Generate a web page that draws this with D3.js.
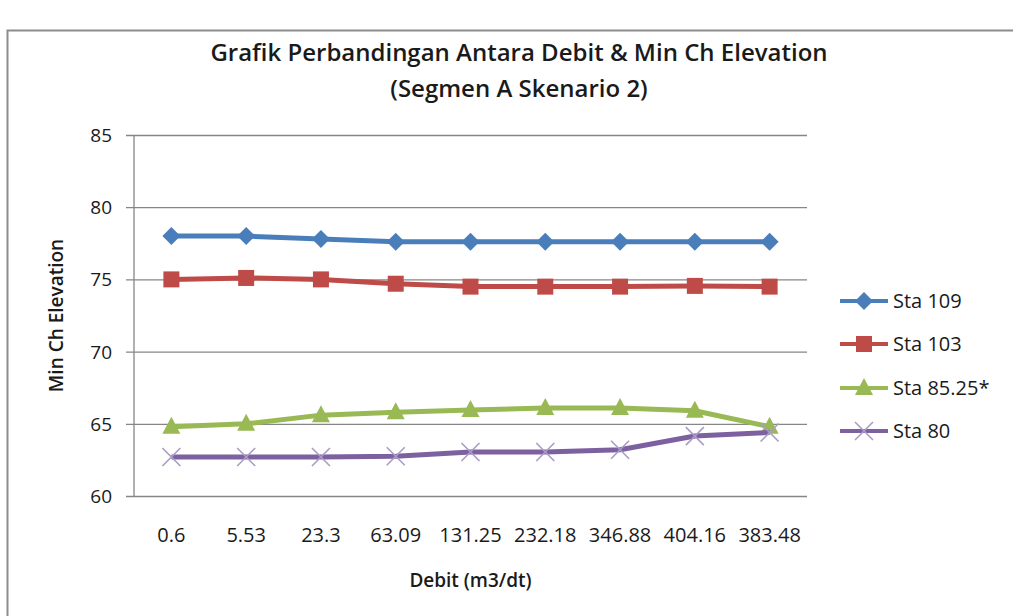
<!DOCTYPE html>
<html>
<head>
<meta charset="utf-8">
<script src="https://cdn.jsdelivr.net/npm/d3@7"></script>
<style>
  html, body { margin: 0; padding: 0; background: #fff; }
  svg { display: block; }
</style>
</head>
<body>
<svg id="chart" width="1013" height="616"></svg>
<script>
// Discharge categories along the x axis
const debitLabels = ["0.6", "5.53", "23.3", "63.09", "131.25", "232.18", "346.88", "404.16", "383.48"];

// Minimum channel elevation for each station
const sta109 = [78.0, 78.0, 77.8, 77.6, 77.6, 77.6, 77.6, 77.6, 77.6];
const sta103 = [75.0, 75.1, 75.0, 74.7, 74.5, 74.5, 74.5, 74.55, 74.5];
const sta8525 = [64.8, 65.0, 65.6, 65.8, 65.95, 66.1, 66.1, 65.9, 64.8];
const sta80 = [62.7, 62.7, 62.7, 62.75, 63.05, 63.05, 63.2, 64.15, 64.4];

const yTicks = [60, 65, 70, 75, 80, 85];

const seriesNames = ["Sta 109", "Sta 103", "Sta 85.25*", "Sta 80"];
const seriesValues = [sta109, sta103, sta8525, sta80];
const seriesColors = ["#4a7ebb", "#be4b48", "#98b954", "#7d60a0"];
const seriesMarkers = ["diamond", "square", "triangle", "cross"];

const font = "'Open Sans', 'Noto Sans', sans-serif";
const textColor = "#1a1a1a";
const svg = d3.select("#chart");

// Chart frame
svg.append("rect")
  .attr("x", 7.5).attr("y", 30.5)
  .attr("width", 1013).attr("height", 620)
  .attr("fill", "#fff")
  .attr("stroke", "#8c8c8c").attr("stroke-width", 2);

const plot = { left: 134, right: 807, top: 135, bottom: 496 };

const x = d3.scaleBand()
  .domain(debitLabels)
  .range([plot.left, plot.right]);

const y = d3.scaleLinear()
  .domain([60, 85])
  .range([plot.bottom, plot.top]);

// Horizontal gridlines with left tick marks
const yAxis = d3.axisLeft(y)
  .tickValues(yTicks)
  .tickSize(-(plot.right - plot.left))
  .tickPadding(22)
  .tickFormat(d3.format("d"));

const gy = svg.append("g")
  .attr("transform", `translate(${plot.left},0)`)
  .call(yAxis);
gy.select(".domain").remove();
gy.selectAll(".tick line")
  .attr("x1", -8)
  .attr("stroke", "#868686").attr("stroke-width", 1.3);
gy.selectAll(".tick text")
  .attr("font-family", font).attr("font-size", 19)
  .attr("fill", textColor).attr("dy", "0.34em");

// Vertical value axis line
svg.append("line")
  .attr("x1", plot.left).attr("x2", plot.left)
  .attr("y1", plot.top).attr("y2", plot.bottom)
  .attr("stroke", "#868686").attr("stroke-width", 1.3);

// Category labels
const xAxis = d3.axisBottom(x).tickSize(0).tickPadding(32);
const gx = svg.append("g")
  .attr("transform", `translate(0,${plot.bottom})`)
  .call(xAxis);
gx.select(".domain").remove();
gx.selectAll(".tick text")
  .attr("font-family", font).attr("font-size", 20)
  .attr("fill", textColor);

// Title
const title = svg.append("text")
  .attr("text-anchor", "middle")
  .attr("font-family", font).attr("font-weight", 600)
  .attr("font-size", 24).attr("fill", textColor);
title.append("tspan").attr("x", 519).attr("y", 61)
  .text("Grafik Perbandingan Antara Debit & Min Ch Elevation");
title.append("tspan").attr("x", 519).attr("y", 97)
  .text("(Segmen  A Skenario 2)");

// Axis titles
svg.append("text")
  .attr("x", (plot.left + plot.right) / 2).attr("y", 587)
  .attr("text-anchor", "middle")
  .attr("font-family", font).attr("font-weight", 600)
  .attr("font-size", 19).attr("fill", textColor)
  .text("Debit (m3/dt)");

svg.append("text")
  .attr("transform", `translate(63,${(plot.top + plot.bottom) / 2}) rotate(-90)`)
  .attr("text-anchor", "middle")
  .attr("font-family", font).attr("font-weight", 600)
  .attr("font-size", 19).attr("fill", textColor)
  .text("Min Ch Elevation");

// Marker shapes
function drawMarker(g, type, color, cx, cy) {
  if (type === "diamond") {
    g.append("path")
      .attr("d", `M${cx},${cy - 9}L${cx + 9},${cy}L${cx},${cy + 9}L${cx - 9},${cy}Z`)
      .attr("fill", color);
  } else if (type === "square") {
    g.append("rect")
      .attr("x", cx - 8).attr("y", cy - 8)
      .attr("width", 16).attr("height", 16)
      .attr("fill", color);
  } else if (type === "triangle") {
    g.append("path")
      .attr("d", `M${cx},${cy - 10}L${cx + 9},${cy + 7}L${cx - 9},${cy + 7}Z`)
      .attr("fill", color);
  } else if (type === "cross") {
    g.append("path")
      .attr("d", `M${cx - 9},${cy - 9}L${cx + 9},${cy + 9}M${cx + 9},${cy - 9}L${cx - 9},${cy + 9}`)
      .attr("stroke", "#a99cc6").attr("stroke-width", 1.6)
      .attr("fill", "none");
  }
}

const line = d3.line()
  .x((d, i) => x(debitLabels[i]) + x.bandwidth() / 2)
  .y(d => y(d));

seriesValues.forEach((vals, s) => {
  const g = svg.append("g");
  g.append("path")
    .attr("d", line(vals))
    .attr("fill", "none")
    .attr("stroke", seriesColors[s])
    .attr("stroke-width", 5)
    .attr("stroke-linejoin", "round");
  vals.forEach((v, i) => {
    drawMarker(g, seriesMarkers[s], seriesColors[s],
      x(debitLabels[i]) + x.bandwidth() / 2, y(v));
  });
});

// Legend
const legendY = [301, 344, 388, 431];
seriesNames.forEach((name, s) => {
  const g = svg.append("g");
  const ly = legendY[s];
  g.append("line")
    .attr("x1", 840).attr("x2", 888)
    .attr("y1", ly).attr("y2", ly)
    .attr("stroke", seriesColors[s]).attr("stroke-width", 4);
  drawMarker(g, seriesMarkers[s], seriesColors[s], 864, ly);
  g.append("text")
    .attr("x", 893).attr("y", ly).attr("dy", "0.36em")
    .attr("font-family", font).attr("font-size", 20)
    .attr("fill", textColor)
    .text(name);
});
</script>
</body>
</html>
